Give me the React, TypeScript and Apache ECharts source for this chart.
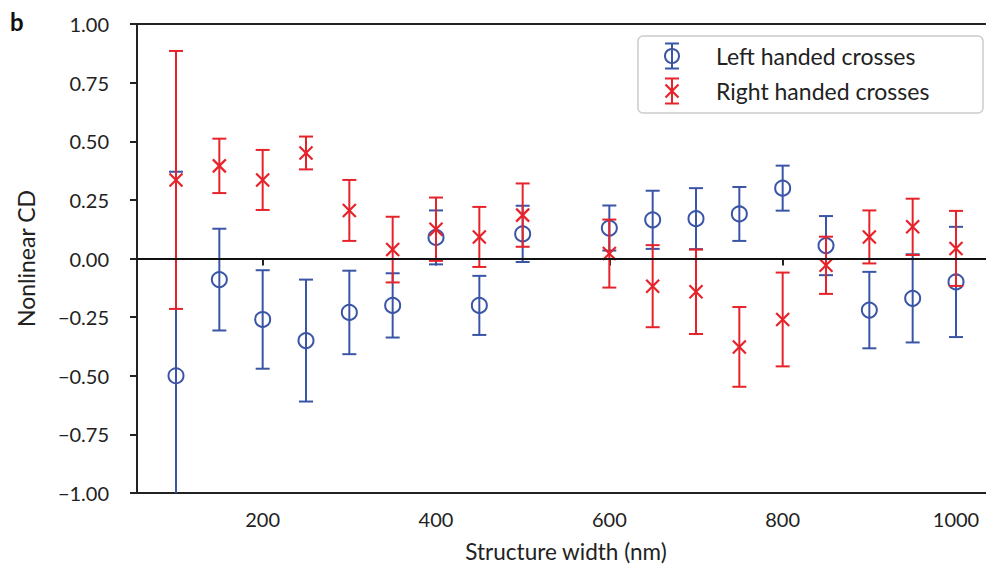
import React, { useEffect, useRef } from "react";
import * as echarts from "echarts";

const widths = [100, 150, 200, 250, 300, 350, 400, 450, 500, 600, 650, 700, 750, 800, 850, 900, 950, 1000];
const leftMean = [-0.5, -0.09, -0.26, -0.35, -0.23, -0.2, 0.09, -0.2, 0.105, 0.13, 0.165, 0.17, 0.19, 0.3, 0.055, -0.22, -0.17, -0.1];
const leftErr = [0.87, 0.217, 0.21, 0.26, 0.178, 0.137, 0.115, 0.126, 0.12, 0.096, 0.124, 0.13, 0.115, 0.096, 0.126, 0.163, 0.188, 0.235];
const rightMean = [0.335, 0.395, 0.335, 0.45, 0.205, 0.038, 0.125, 0.092, 0.185, 0.021, -0.118, -0.142, -0.377, -0.26, -0.029, 0.092, 0.135, 0.043];
const rightErr = [0.55, 0.116, 0.128, 0.07, 0.13, 0.14, 0.135, 0.128, 0.135, 0.145, 0.175, 0.18, 0.17, 0.2, 0.122, 0.113, 0.12, 0.16];
const xTicks = [200, 400, 600, 800, 1000];
const seriesNames = ["Left handed crosses", "Right handed crosses"];

const BLUE = "#3a55a6";
const RED = "#e6232a";
const FONT = "Lato";
const CAP = 7;
const R = 7.5;

function makeRender(color: string, marker: "circle" | "x") {
  return (params: any, api: any) => {
    const x = api.value(0);
    const m = api.value(1);
    const e = api.value(2);
    const top = api.coord([x, m + e]);
    const bot = api.coord([x, m - e]);
    const c = api.coord([x, m]);
    const st = { stroke: color, lineWidth: 2, fill: "none" };
    const children: any[] = [
      { type: "line", shape: { x1: top[0], y1: top[1], x2: bot[0], y2: bot[1] }, style: st },
      { type: "line", shape: { x1: top[0] - CAP, y1: top[1], x2: top[0] + CAP, y2: top[1] }, style: st },
      { type: "line", shape: { x1: bot[0] - CAP, y1: bot[1], x2: bot[0] + CAP, y2: bot[1] }, style: st },
    ];
    if (marker === "circle") {
      children.push({ type: "circle", shape: { cx: c[0], cy: c[1], r: R }, style: st });
    } else {
      const d = 6.5;
      children.push({ type: "line", shape: { x1: c[0] - d, y1: c[1] - d, x2: c[0] + d, y2: c[1] + d }, style: { ...st, lineWidth: 2.2 } });
      children.push({ type: "line", shape: { x1: c[0] - d, y1: c[1] + d, x2: c[0] + d, y2: c[1] - d }, style: { ...st, lineWidth: 2.2 } });
    }
    return { type: "group", children };
  };
}

function legendIcon(cx: number, cy: number, color: string, marker: "circle" | "x") {
  const st = { stroke: color, lineWidth: 2, fill: "none" };
  const h = 12.5;
  const items: any[] = [
    { type: "line", shape: { x1: cx, y1: cy - h, x2: cx, y2: cy + h }, style: st },
    { type: "line", shape: { x1: cx - CAP, y1: cy - h, x2: cx + CAP, y2: cy - h }, style: st },
    { type: "line", shape: { x1: cx - CAP, y1: cy + h, x2: cx + CAP, y2: cy + h }, style: st },
  ];
  if (marker === "circle") {
    items.push({ type: "circle", shape: { cx, cy, r: 7 }, style: st });
  } else {
    const d = 6.5;
    items.push({ type: "line", shape: { x1: cx - d, y1: cy - d, x2: cx + d, y2: cy + d }, style: { ...st, lineWidth: 2.2 } });
    items.push({ type: "line", shape: { x1: cx - d, y1: cy + d, x2: cx + d, y2: cy - d }, style: { ...st, lineWidth: 2.2 } });
  }
  return items;
}

export default function App() {
  const ref = useRef<HTMLDivElement>(null);
  useEffect(() => {
    if (!ref.current) return;
    const chart = echarts.init(ref.current, null, { renderer: "svg" });
    const leftData = widths.map((w, i) => [w, leftMean[i], leftErr[i]]);
    const rightData = widths.map((w, i) => [w, rightMean[i], rightErr[i]]);
    const fmtY = (v: number) => v.toFixed(2).replace("-", "\u2212");
    const fmtX = (v: number) => String(Math.round(v));
    chart.setOption({
      animation: false,
      backgroundColor: "#ffffff",
      textStyle: { fontFamily: FONT },
      grid: {
        left: 137,
        top: 24,
        right: 5,
        bottom: 71,
        outerBoundsMode: "none",
        containLabel: false,
        show: true,
        borderColor: "#222",
        borderWidth: 2,
        backgroundColor: "transparent",
      },
      xAxis: {
        type: "value",
        min: 55,
        max: 1045,
        name: "Structure width (nm)",
        nameLocation: "middle",
        nameGap: 47,
        nameTextStyle: { fontSize: 22.5, color: "#222", fontFamily: FONT },
        axisLine: { show: true, lineStyle: { color: "#222", width: 2 } },
        axisTick: { show: true, length: 7, lineStyle: { color: "#222", width: 2 }, customValues: xTicks },
        axisLabel: { fontSize: 20, color: "#222", margin: 16, fontFamily: FONT, customValues: xTicks, formatter: fmtX },
        splitLine: { show: false },
      },
      yAxis: {
        type: "value",
        min: -1,
        max: 1,
        interval: 0.25,
        name: "Nonlinear CD",
        nameLocation: "middle",
        nameGap: 100,
        nameTextStyle: { fontSize: 23, color: "#222", fontFamily: FONT },
        axisLine: { show: true, lineStyle: { color: "#222", width: 2 } },
        axisTick: { show: true, length: 7, lineStyle: { color: "#222", width: 2 } },
        axisLabel: { fontSize: 20, color: "#222", margin: 28, fontFamily: FONT, formatter: fmtY },
        splitLine: { show: false },
      },
      series: [
        {
          name: seriesNames[0],
          type: "custom",
          clip: true,
          renderItem: makeRender(BLUE, "circle"),
          data: leftData,
          encode: { x: 0, y: 1 },
          z: 3,
          markLine: {
            silent: true,
            symbol: "none",
            label: { show: false },
            lineStyle: { color: "#111", width: 2, type: "solid" },
            data: [{ yAxis: 0 }],
          },
        },
        {
          name: seriesNames[1],
          type: "custom",
          clip: true,
          renderItem: makeRender(RED, "x"),
          data: rightData,
          encode: { x: 0, y: 1 },
          z: 4,
        },
      ],
      graphic: [
        {
          type: "text",
          left: 10,
          top: 9,
          style: { text: "b", font: `bold 24px ${FONT}`, fill: "#111" },
        },
        {
          type: "rect",
          shape: { x: 638, y: 36, width: 345, height: 77, r: 5 },
          style: { fill: "#fff", stroke: "#cccccc", lineWidth: 1.5 },
          z: 10,
        },
        ...legendIcon(672, 56, BLUE, "circle").map((g) => ({ ...g, z: 11 })),
        ...legendIcon(672, 91, RED, "x").map((g) => ({ ...g, z: 11 })),
        {
          type: "text",
          x: 716,
          y: 56,
          z: 11,
          style: { text: seriesNames[0], font: `23px ${FONT}`, fill: "#222", textVerticalAlign: "middle" },
        },
        {
          type: "text",
          x: 716,
          y: 91,
          z: 11,
          style: { text: seriesNames[1], font: `23px ${FONT}`, fill: "#222", textVerticalAlign: "middle" },
        },
      ],
    });
    return () => chart.dispose();
  }, []);
  return <div ref={ref} style={{ position: "fixed", left: 0, top: 0, width: 1000, height: 564 }} />;
}
